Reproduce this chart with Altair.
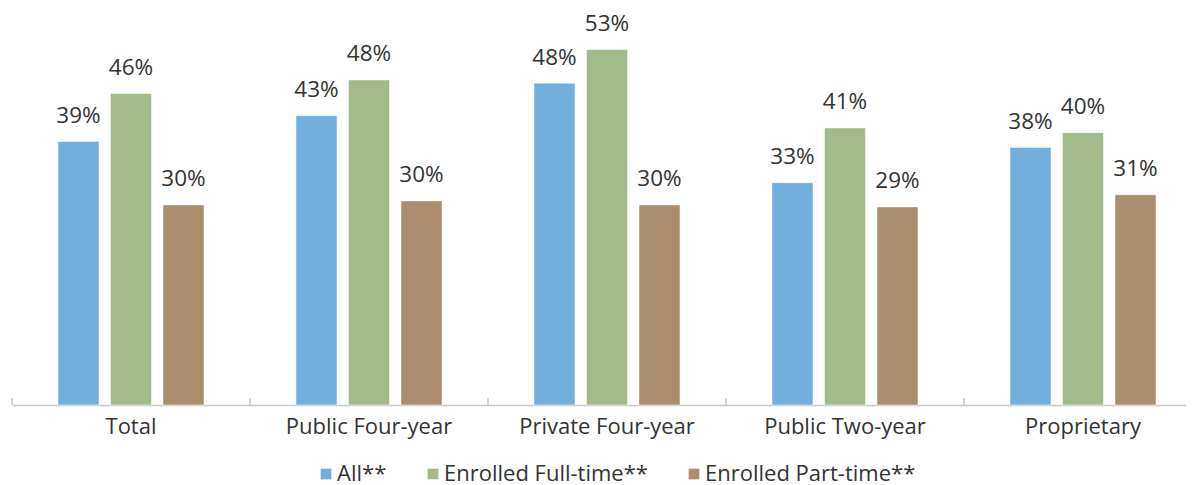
import altair as alt
import pandas as pd

categories = ["Total", "Public Four-year", "Private Four-year", "Public Two-year", "Proprietary"]
series = ["All**", "Enrolled Full-time**", "Enrolled Part-time**"]
colors = ["#72AFDC", "#A3BB8A", "#AA8C6E"]
all_vals = [0.390, 0.428, 0.476, 0.329, 0.381]
ft_vals = [0.461, 0.481, 0.526, 0.410, 0.403]
pt_vals = [0.296, 0.302, 0.296, 0.293, 0.311]

rows = []
for i, c in enumerate(categories):
    for s, vals in zip(series, [all_vals, ft_vals, pt_vals]):
        rows.append({"category": c, "series": s, "value": vals[i]})
df = pd.DataFrame(rows)

FONT = "Open Sans"
XRANGE = [0, 1190]

x = alt.X("category:N", sort=categories,
          scale=alt.Scale(paddingInner=0, paddingOuter=0, range=XRANGE),
          axis=alt.Axis(title=None, labelAngle=0, labelFontSize=22, labelFont=FONT,
                        labelColor="#333333", labelPadding=11, ticks=False,
                        domainColor="#C8C8C8", domainWidth=1.5))
xo = alt.XOffset("series:N", sort=series,
                 scale=alt.Scale(paddingInner=0.219, paddingOuter=0.876))
y = alt.Y("value:Q", scale=alt.Scale(domain=[0, 0.58]), axis=None)

bars = alt.Chart(df).mark_bar(stroke="#FFFFFF", strokeOpacity=0.5, strokeWidth=1).encode(
    x=x, xOffset=xo, y=y,
    color=alt.Color("series:N", sort=series,
                    scale=alt.Scale(domain=series, range=colors),
                    legend=alt.Legend(title=None, orient="none", direction="horizontal",
                                      legendX=303, legendY=450,
                                      symbolType="square", symbolSize=115, symbolStrokeWidth=0,
                                      labelFontSize=22, labelFont=FONT, labelColor="#333333",
                                      labelLimit=0, columnPadding=35, labelOffset=0)),
)

labels = alt.Chart(df).mark_text(dy=-18.5, baseline="alphabetic", fontSize=22.5, font=FONT,
                                 color="#333333").encode(
    x=x, xOffset=xo, y=y,
    text=alt.Text("value:Q", format=".0%"),
)

tick_df = pd.DataFrame({"category": categories})
ticks = alt.Chart(tick_df).mark_rule(color="#C8C8C8", strokeWidth=1.5).encode(
    x=alt.X("category:N", sort=categories, bandPosition=0,
            scale=alt.Scale(paddingInner=0, paddingOuter=0, range=XRANGE)),
    y=alt.value(392), y2=alt.value(385),
)

chart = alt.layer(bars, labels, ticks).properties(
    width=1174, height=392,
    autosize=alt.AutoSizeParams(type="none"),
    padding={"left": 4, "top": 5, "right": 0, "bottom": 85},
).configure(font=FONT).configure_view(strokeWidth=0, stroke=None)

chart.save("out.html", embed_options={"renderer": "svg", "actions": False})
